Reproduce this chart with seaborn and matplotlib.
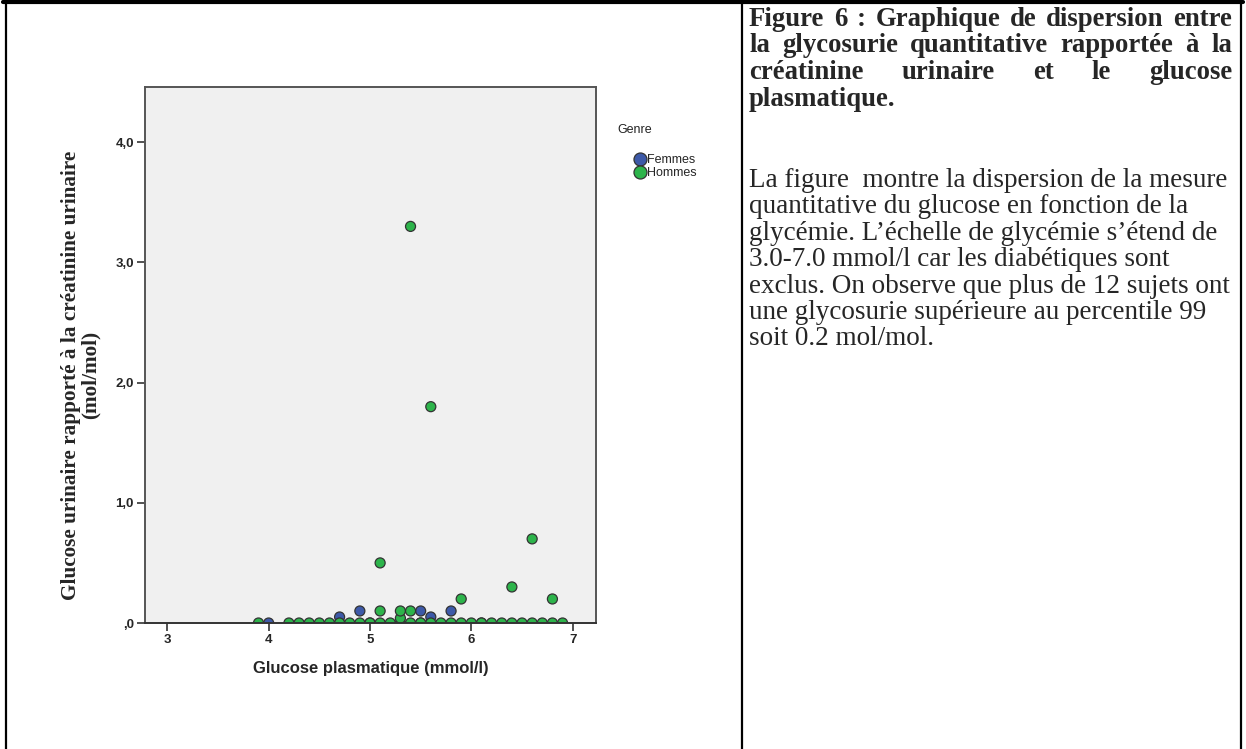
import pandas as pd
import matplotlib
matplotlib.use("Agg")
import matplotlib.pyplot as plt
import seaborn as sns
from matplotlib.lines import Line2D
from matplotlib.ticker import FuncFormatter

sns.set_style("white")
plt.rcParams["font.family"] = ["Liberation Sans", "DejaVu Sans"]

# valeurs (glucose plasmatique mmol/l, ratio mol/mol)
femmes_glucose = [4.0, 4.7, 5.0, 5.5, 6.1, 4.7, 4.9, 5.5, 5.6, 5.8]
femmes_ratio = [0.0, 0.0, 0.0, 0.0, 0.0, 0.05, 0.1, 0.1, 0.05, 0.1]

hommes_glucose = [3.9, 4.2, 4.3, 4.4, 4.5, 4.6, 4.7, 4.8, 4.9, 5.0,
                  5.1, 5.2, 5.3, 5.4, 5.5, 5.6, 5.7, 5.8, 5.9, 6.0,
                  6.1, 6.2, 6.3, 6.4, 6.5, 6.6, 6.7, 6.8, 6.9,
                  5.3, 5.1, 5.3, 5.4, 5.9, 6.8, 6.4, 5.1, 6.6, 5.6, 5.4]
hommes_ratio = [0.0, 0.0, 0.0, 0.0, 0.0, 0.0, 0.0, 0.0, 0.0, 0.0,
                0.0, 0.0, 0.0, 0.0, 0.0, 0.0, 0.0, 0.0, 0.0, 0.0,
                0.0, 0.0, 0.0, 0.0, 0.0, 0.0, 0.0, 0.0, 0.0,
                0.04, 0.1, 0.1, 0.1, 0.2, 0.2, 0.3, 0.5, 0.7, 1.8, 3.3]

genres = ["Femmes", "Hommes"]
x_ticks = [3, 4, 5, 6, 7]
y_ticks = [0, 1, 2, 3, 4]

titre = ["Figure 6 : Graphique de dispersion entre",
         "la glycosurie quantitative rapportée à la",
         "créatinine urinaire et le glucose",
         "plasmatique."]
texte = ["La figure  montre la dispersion de la mesure",
         "quantitative du glucose en fonction de la",
         "glycémie. L’échelle de glycémie s’étend de",
         "3.0-7.0 mmol/l car les diabétiques sont",
         "exclus. On observe que plus de 12 sujets ont",
         "une glycosurie supérieure au percentile 99",
         "soit 0.2 mol/mol."]

df = pd.DataFrame({
    "glucose": femmes_glucose + hommes_glucose,
    "ratio": femmes_ratio + hommes_ratio,
    "Genre": [genres[0]] * len(femmes_glucose) + [genres[1]] * len(hommes_glucose),
})

W, H = 1246, 749
fig = plt.figure(figsize=(W / 100, H / 100), dpi=100)
fig.patch.set_facecolor("white")

# cadre du tableau
for x0, y0, x1, y1, lw in [(3, 2, 1243, 2, 3.0), (6, 0, 6, H, 1.6),
                           (742, 0, 742, H, 1.6), (1241, 0, 1241, H, 1.6)]:
    fig.add_artist(Line2D([x0 / W, x1 / W], [1 - y0 / H, 1 - y1 / H],
                          color="black", lw=lw))

ax = fig.add_axes([145 / W, (H - 623) / H, 451 / W, 536 / H])
ax.set_facecolor("#F0F0F0")
sns.scatterplot(data=df, x="glucose", y="ratio", hue="Genre", hue_order=genres,
                palette={"Femmes": "#3D59A8", "Hommes": "#2DB44B"},
                s=52, edgecolor="#333333", linewidth=0.9, ax=ax)

ax.set_xlim(2.78, 7.23)
ax.set_ylim(0, 4.46)
ax.set_xticks(x_ticks)
ax.set_yticks(y_ticks)
ax.yaxis.set_major_formatter(FuncFormatter(
    lambda v, p: f"{v:.1f}".replace(".", ",").lstrip("0")))
ax.tick_params(axis="both", direction="out", length=6, width=1.2,
               color="#333333", labelsize=9.5, pad=2, left=True, bottom=True)
for lab in ax.get_xticklabels() + ax.get_yticklabels():
    lab.set_fontweight("bold")
for sp in ax.spines.values():
    sp.set_color("#555555")
    sp.set_linewidth(1.4)
ax.spines["bottom"].set_color("#333333")

ax.set_xlabel("")
ax.set_ylabel("")
fig.text(371 / W, 1 - 669 / H, "Glucose plasmatique (mmol/l)", ha="center",
         va="center", fontsize=12, fontweight="bold")
fig.text(81 / W, 1 - 375 / H,
         "Glucose urinaire rapporté à la créatinine urinaire\n(mol/mol)",
         rotation=90, ha="center", va="center", fontsize=15.3,
         fontweight="bold", family=["Liberation Serif"], linespacing=1.0,
         multialignment="center")

# légende façon SPSS
sns.move_legend(ax, "upper left", bbox_to_anchor=(628 / W, 1 - 148 / H),
                bbox_transform=fig.transFigure, title=None, frameon=False,
                fontsize=9, markerscale=1.3, handlelength=0.95,
                handletextpad=0.1, labelspacing=0.1, borderpad=0)
fig.text(617 / W, 1 - 130 / H, "Genre", ha="left", va="center",
         fontsize=9, color="#222222")

# texte de la cellule de droite
fig.canvas.draw()
renderer = fig.canvas.get_renderer()
left, right = 749, 1232


def justified(line, base, **kw):
    words = line.split()
    items = [fig.text(0, 1 - base / H, w, va="baseline", **kw) for w in words]
    widths = [t.get_window_extent(renderer).width for t in items]
    gap = (right - left - sum(widths)) / (len(words) - 1)
    x = left
    for t, w in zip(items, widths):
        t.set_x(x / W)
        x += w + gap


serif = ["Liberation Serif", "DejaVu Serif"]
for i, line in enumerate(titre):
    base = 26 + 26.5 * i
    if i < len(titre) - 1:
        justified(line, base, fontsize=19.3, fontweight="bold", family=serif)
    else:
        fig.text(left / W, 1 - base / H, line, va="baseline", fontsize=19.3,
                 fontweight="bold", family=serif)

for i, line in enumerate(texte):
    fig.text(left / W, 1 - (187 + 26.4 * i) / H, line, va="baseline",
             fontsize=19.5, family=serif)

fig.savefig("out.png", dpi=100)
